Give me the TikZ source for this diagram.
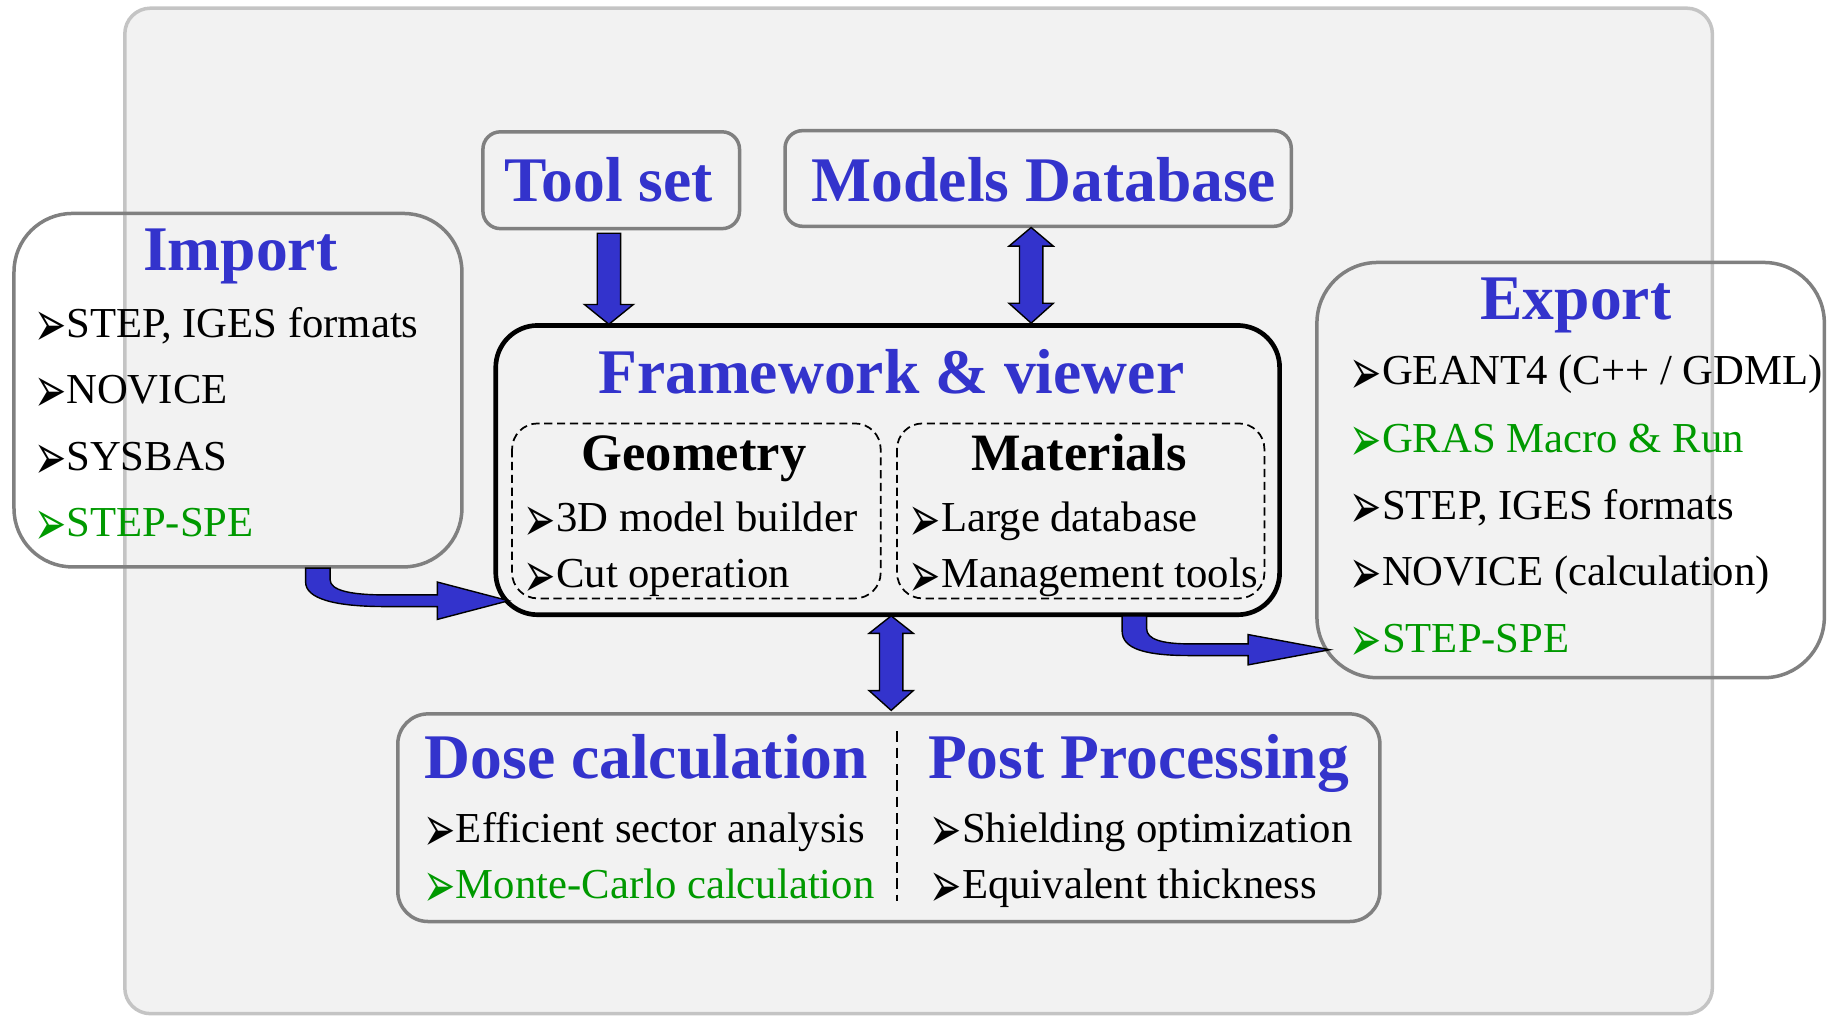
\documentclass[tikz,border=0pt]{standalone}
\usepackage{fontspec}
\setmainfont{Liberation Serif}
\newfontfamily\dingfont{DejaVu Sans}
\usetikzlibrary{calc}

\definecolor{titleblue}{RGB}{51,51,204}
\definecolor{itemgreen}{RGB}{0,153,0}
\definecolor{boxgray}{RGB}{128,128,128}
\definecolor{panelfill}{RGB}{242,242,242}
\definecolor{panelline}{RGB}{196,196,196}

% font sizes (1 unit = 1pt)
\newcommand\titlesz{\fontsize{54.5}{60}\selectfont\bfseries}
\newcommand\subsz{\fontsize{45}{50}\selectfont\bfseries}
\newcommand\itemsz{\fontsize{36.6}{40}\selectfont}
% list marker: a tall 3-D arrowhead
\newcommand\bul{\smash{\raisebox{-8pt}{\scalebox{1.1}[1.85]{\dingfont\fontsize{30}{30}\selectfont ➢}}}}

\tikzset{
  groupbox/.style={draw=boxgray, line width=3pt},
  mainbox/.style={draw=black, line width=4pt},
  subbox/.style={draw=black, line width=1.5pt, dash pattern=on 7pt off 4pt},
  titletext/.style={inner sep=0pt, anchor=base, text=titleblue, font=\titlesz},
  subtext/.style={inner sep=0pt, anchor=base, text=black, font=\subsz},
  itemtext/.style={inner sep=0pt, anchor=base west, text=black, font=\itemsz},
  greenitem/.style={itemtext, text=itemgreen},
  blockarrow/.style={fill=titleblue, draw=black, line width=1.2pt, line join=miter},
}

\begin{document}
\begin{tikzpicture}[x=1pt, y=-1pt]
\useasboundingbox (0,0) rectangle (1568,871);
\clip (0,0) rectangle (1568,871);

% backdrop panel
\draw[fill=panelfill, draw=panelline, line width=3pt, rounded corners=22pt]
  (107,7) rectangle (1468,869);

% boxes
\draw[groupbox, rounded corners=50pt] (12,183) rectangle (396,486);
\draw[groupbox, rounded corners=15pt] (414,113) rectangle (634,196);
\draw[groupbox, rounded corners=15pt] (673,112) rectangle (1107,194);
\draw[mainbox, rounded corners=36pt] (425,279) rectangle (1097,527);
\draw[subbox, rounded corners=22pt] (439,363) rectangle (755,513);
\draw[subbox, rounded corners=22pt] (769,363) rectangle (1084,513);
\draw[groupbox, rounded corners=52pt] (1129,225) rectangle (1564,581);
\draw[groupbox, rounded corners=26pt] (341,612) rectangle (1183,790);
\draw[black, line width=1.3pt, dash pattern=on 9pt off 5pt] (769,627) -- (769,772);

% named anchors for the connectors
\coordinate (importS) at (272,486);
\coordinate (toolS) at (522,196);
\coordinate (modelsS) at (884,194);
\coordinate (frameN1) at (522,279);
\coordinate (frameN2) at (884,279);
\coordinate (frameS) at (764,527);
\coordinate (frameW) at (436,515);
\coordinate (frameSE) at (972,527);
\coordinate (doseN) at (764,612);
\coordinate (exportW) at (1140,557);

% Tool set -> Framework
\draw[blockarrow] ($(toolS)+(-10,4)$) -- ($(toolS)+(10,4)$) -- ($(frameN1)+(10,-18)$)
  -- ($(frameN1)+(21,-18)$) -- ($(frameN1)+(0,-1)$) -- ($(frameN1)+(-21,-18)$)
  -- ($(frameN1)+(-10,-18)$) -- cycle;

% Models Database <-> Framework
\draw[blockarrow] ($(modelsS)+(0,1)$) -- ($(modelsS)+(19,17)$) -- ($(modelsS)+(10,17)$)
  -- ($(frameN2)+(10,-19)$) -- ($(frameN2)+(19,-19)$) -- ($(frameN2)+(0,-2)$)
  -- ($(frameN2)+(-19,-19)$) -- ($(frameN2)+(-10,-19)$) -- ($(modelsS)+(-10,17)$)
  -- ($(modelsS)+(-19,17)$) -- cycle;

% Framework <-> Dose calculation / Post Processing
\draw[blockarrow] ($(frameS)+(0,1)$) -- ($(frameS)+(19,16)$) -- ($(frameS)+(10,16)$)
  -- ($(doseN)+(10,-20)$) -- ($(doseN)+(19,-20)$) -- ($(doseN)+(0,-3)$)
  -- ($(doseN)+(-19,-20)$) -- ($(doseN)+(-10,-20)$) -- ($(frameS)+(-10,16)$)
  -- ($(frameS)+(-19,16)$) -- cycle;

% Import -> Framework (bent arrow)
\draw[blockarrow] ($(importS)+(-10,1)$) -- ($(importS)+(11,1)$) -- ($(importS)+(11,11)$)
  .. controls ($(importS)+(11,20)$) and ($(importS)+(28,24)$) .. ($(importS)+(58,24)$)
  -- (375,510) -- (375,499) -- (frameW) -- (375,531) -- (375,520) -- (330,520)
  .. controls (286,520) and (262,513) .. (262,499) -- cycle;

% Framework -> Export (bent arrow)
\draw[blockarrow] ($(frameSE)+(-10,1)$) -- ($(frameSE)+(11,1)$) -- ($(frameSE)+(11,12)$)
  .. controls ($(frameSE)+(11,21)$) and ($(frameSE)+(24,25)$) .. ($(frameSE)+(48,25)$)
  -- (1070,552) -- (1070,544) -- (exportW) -- (1070,570) -- (1070,562) -- (1020,562)
  .. controls (981,562) and (962,556) .. (962,541) -- cycle;

% Import
\node[titletext] (importT) at (206,232) {Import};
\node[itemtext] (imp1) at (29,289) {\bul STEP, IGES formats};
\node[itemtext] (imp2) at (29,346) {\bul NOVICE};
\node[itemtext] (imp3) at (29,403) {\bul SYSBAS};
\node[greenitem] (imp4) at (29,460) {\bul STEP-SPE};

% Tool set and Models Database
\node[titletext] (toolT) at (522,173) {Tool set};
\node[titletext] (modelsT) at (895,173) {Models Database};

% Framework & viewer
\node[titletext] (frameT) at (764,337) {Framework \& viewer};
\node[subtext] (geomT) at (595,403) {Geometry};
\node[itemtext] (geom1) at (449,456) {\bul 3D model builder};
\node[itemtext] (geom2) at (449,504) {\bul Cut operation};
\node[subtext] (matT) at (925,403) {Materials};
\node[itemtext] (mat1) at (779,456) {\bul Large database};
\node[itemtext] (mat2) at (779,504) {\bul Management tools};

% Export
\node[titletext] (exportT) at (1351,274) {Export};
\node[itemtext] (exp1) at (1157,330) {\bul GEANT4 (C++ / GDML)};
\node[greenitem] (exp2) at (1157,388) {\bul GRAS Macro \& Run};
\node[itemtext] (exp3) at (1157,445) {\bul STEP, IGES formats};
\node[itemtext] (exp4) at (1157,502) {\bul NOVICE (calculation)};
\node[greenitem] (exp5) at (1157,559) {\bul STEP-SPE};

% Dose calculation / Post Processing
\node[titletext] (doseT) at (554,667) {Dose calculation};
\node[itemtext] (dose1) at (363,722) {\bul Efficient sector analysis};
\node[greenitem] (dose2) at (363,770) {\bul Monte-Carlo calculation};
\node[titletext] (postT) at (976,667) {Post Processing};
\node[itemtext] (post1) at (797,722) {\bul Shielding optimization};
\node[itemtext] (post2) at (797,770) {\bul Equivalent thickness};
\end{tikzpicture}
\end{document}
